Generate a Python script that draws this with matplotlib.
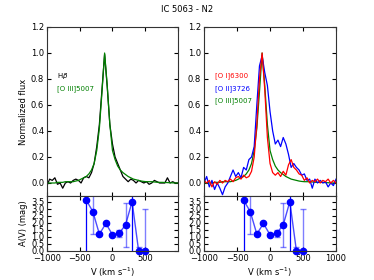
import numpy as np
import matplotlib
matplotlib.use('Agg')
import matplotlib.pyplot as plt

# --- data ---
vel = list(range(-1000, 1001, 40))

hbeta = [-0.02, 0.03, 0.02, 0.04, -0.01, 0.00, -0.04, 0.00, 0.01, 0.00,
         0.02, 0.03, 0.02, 0.00, 0.04, 0.05, 0.04, 0.08, 0.15, 0.28,
         0.45, 0.72, 0.99, 0.74, 0.45, 0.30, 0.20, 0.15, 0.10, 0.05,
         0.03, 0.01, 0.03, 0.02, 0.00, 0.02, 0.01, 0.00, 0.01, -0.01,
         0.00, 0.02, 0.01, 0.00, 0.00, 0.00, 0.04, 0.00, 0.01, 0.00, 0.00]

oiii = [0.00, 0.00, 0.00, 0.00, 0.005, 0.005, 0.005, 0.01, 0.01, 0.01,
        0.01, 0.015, 0.02, 0.03, 0.04, 0.05, 0.07, 0.10, 0.15, 0.25,
        0.42, 0.70, 1.00, 0.75, 0.45, 0.25, 0.18, 0.13, 0.10, 0.08,
        0.065, 0.05, 0.04, 0.03, 0.025, 0.02, 0.015, 0.012, 0.01, 0.01,
        0.01, 0.008, 0.006, 0.005, 0.005, 0.004, 0.003, 0.002, 0.001, 0.00, 0.00]

oi = [0.02, 0.00, 0.02, -0.03, 0.01, -0.01, 0.02, 0.00, 0.02, 0.01,
      0.03, 0.01, 0.04, 0.05, 0.03, 0.06, 0.04, 0.05, 0.09, 0.20,
      0.45, 0.80, 1.00, 0.72, 0.35, 0.15, 0.08, 0.06, 0.08, 0.05,
      0.09, 0.06, 0.14, 0.18, 0.12, 0.10, 0.07, 0.06, 0.02, 0.04,
      0.00, 0.02, 0.01, 0.03, 0.00, 0.02, 0.01, 0.03, 0.00, 0.02, 0.00]

oii = [0.00, 0.05, -0.03, 0.02, -0.05, 0.00, -0.04, -0.09, -0.03, 0.00,
       0.05, 0.10, 0.05, 0.08, 0.04, 0.12, 0.10, 0.18, 0.20, 0.28,
       0.60, 0.90, 0.98, 0.85, 0.75, 0.55, 0.40, 0.30, 0.33, 0.28,
       0.35, 0.30, 0.22, 0.12, 0.15, 0.12, 0.10, 0.06, 0.07, 0.02,
       0.03, -0.04, 0.03, 0.00, 0.02, 0.00, 0.01, -0.03, 0.00, -0.02, 0.03]

av_vel = [-400, -300, -200, -100, 0, 100, 200, 300, 400, 500]
av = [3.6, 2.8, 1.2, 1.95, 1.15, 1.25, 1.85, 3.5, 0.0, 0.0]
av_err_lo = [4.0, 1.6, 0.05, 0.05, 0.05, 0.25, 1.55, 4.0, 0.25, 3.0]
av_err_hi = [4.0, 2.0, 0.05, 0.05, 0.05, 0.25, 1.55, 4.0, 0.25, 3.0]
big_err = [True, False, False, False, False, False, False, True, False, False]

# --- style ---
plt.rcParams['font.family'] = 'DejaVu Sans'
plt.rcParams['font.size'] = 6
plt.rcParams['xtick.direction'] = 'in'
plt.rcParams['ytick.direction'] = 'in'
plt.rcParams['xtick.top'] = True
plt.rcParams['ytick.right'] = True
plt.rcParams['xtick.major.size'] = 3
plt.rcParams['ytick.major.size'] = 3
plt.rcParams['xtick.major.pad'] = 2
plt.rcParams['ytick.major.pad'] = 2
plt.rcParams['axes.labelpad'] = 2
plt.rcParams['axes.linewidth'] = 0.8
plt.rcParams['axes.edgecolor'] = '#333333'

fig = plt.figure(figsize=(3.74, 2.8), dpi=100)
fig.patch.set_facecolor('white')

x_left, x_right = 0.1257, 0.5455
w_left, w_right = 0.350, 0.353
top_b, top_h = 0.300, 0.6036
bot_b, bot_h = 0.1036, 0.1964

ax_tl = fig.add_axes([x_left, top_b, w_left, top_h])
ax_bl = fig.add_axes([x_left, bot_b, w_left, bot_h])
ax_tr = fig.add_axes([x_right, top_b, w_right, top_h])
ax_br = fig.add_axes([x_right, bot_b, w_right, bot_h])

# top left: Hbeta vs [O III]
ax_tl.plot(vel, hbeta, color='k', lw=0.9)
ax_tl.plot(vel, oiii, color='g', lw=0.9)
ax_tl.text(0.076, 0.70, r'H$\beta$', color='k', fontsize=5, transform=ax_tl.transAxes)
ax_tl.text(0.076, 0.627, '[O III]5007', color='g', fontsize=5, transform=ax_tl.transAxes)
ax_tl.set_ylabel('Normalized flux')

# top right: [O I], [O II], [O III]
ax_tr.plot(vel, oiii, color='g', lw=0.9)
ax_tr.plot(vel, oii, color='b', lw=0.9)
ax_tr.plot(vel, oi, color='r', lw=0.9)
ax_tr.text(0.083, 0.70, '[O I]6300', color='r', fontsize=5, transform=ax_tr.transAxes)
ax_tr.text(0.083, 0.627, '[O II]3726', color='b', fontsize=5, transform=ax_tr.transAxes)
ax_tr.text(0.083, 0.554, '[O III]5007', color='g', fontsize=5, transform=ax_tr.transAxes)

for ax in [ax_tl, ax_tr]:
    ax.set_xlim(-1000, 1000)
    ax.set_ylim(-0.1, 1.2)
    ax.set_yticks([0.0, 0.2, 0.4, 0.6, 0.8, 1.0, 1.2])
    ax.set_xticks([-1000, -500, 0, 500, 1000])
    ax.tick_params(labelbottom=False)

# bottom panels: extinction
av_lo_small = [lo if not b else 0 for lo, b in zip(av_err_lo, big_err)]
av_hi_small = [hi if not b else 0 for hi, b in zip(av_err_hi, big_err)]
av_lo_big = [lo if b else 0 for lo, b in zip(av_err_lo, big_err)]
av_hi_big = [hi if b else 0 for hi, b in zip(av_err_hi, big_err)]

for ax in [ax_bl, ax_br]:
    ax.errorbar(av_vel, av, yerr=[av_lo_small, av_hi_small], fmt='none',
                ecolor='b', alpha=0.5, capsize=2, elinewidth=1)
    ax.errorbar(av_vel, av, yerr=[av_lo_big, av_hi_big], fmt='none',
                ecolor='b', capsize=0, elinewidth=0.9)
    ax.plot(av_vel, av, color='b', lw=1, alpha=0.7)
    ax.plot(av_vel, av, 'o', color='b', ms=4.5, mec='b', clip_on=False)
    ax.set_xlim(-1000, 1000)
    ax.set_ylim(0, 3.9)
    ax.set_yticks([0.0, 0.5, 1.0, 1.5, 2.0, 2.5, 3.0, 3.5])
    ax.set_xlabel(r'V (km s$^{-1}$)')

ax_bl.set_xticks([-1000, -500, 0, 500])
ax_br.set_xticks([-1000, -500, 0, 500, 1000])
ax_bl.set_ylabel('A(V) (mag)')

fig.text(0.5, 0.965, 'IC 5063 - N2', ha='center', va='center', fontsize=6)

fig.savefig('out.png', dpi=100, facecolor='white')
